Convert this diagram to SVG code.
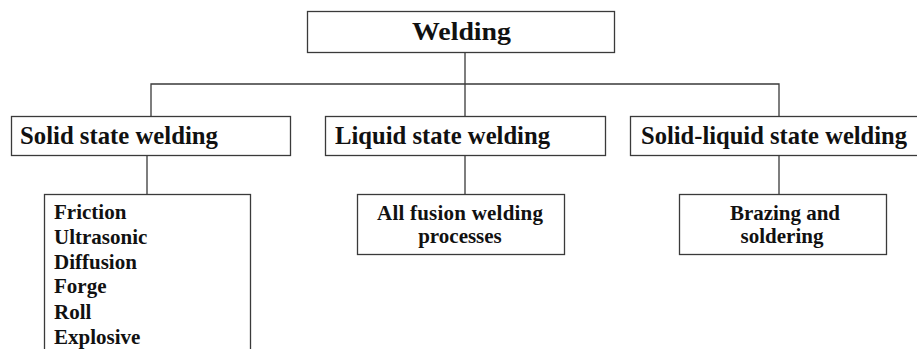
<svg xmlns="http://www.w3.org/2000/svg" width="917" height="349" viewBox="0 0 917 349">
<style>
.box{fill:#fff;stroke:#3a3a3a;stroke-width:1.3}
.ln{fill:none;stroke:#3a3a3a;stroke-width:1.3}
.t{font-family:'Liberation Serif','Times New Roman',Times,serif;font-weight:700;font-size:21px;fill:#111}
.h{font-size:24.5px}
.c{text-anchor:middle}
</style>
<rect width="917" height="349" fill="#fff"/>
<g id="connectors">
<path class="ln" d="M465 52V116M151 116V84H779V116M147 155V194M465 155V194M779 155V194"/>
</g>
<g class="t">
<g id="welding">
<rect class="box" x="307.5" y="11.5" width="307" height="41"/>
<text class="c" x="461.5" y="40" font-size="26" textLength="99" lengthAdjust="spacingAndGlyphs">Welding</text>
</g>
<g id="solid">
<rect class="box" x="11.5" y="116.5" width="279" height="39"/>
<text class="h" x="20" y="143.5" textLength="198" lengthAdjust="spacingAndGlyphs">Solid state welding</text>
</g>
<g id="liquid">
<rect class="box" x="325.5" y="116.5" width="280" height="39"/>
<text class="h" x="335" y="143.5" textLength="215" lengthAdjust="spacingAndGlyphs">Liquid state welding</text>
</g>
<g id="solidliquid">
<rect class="box" x="630.5" y="116.5" width="300" height="39"/>
<text class="h" x="641" y="143.5" textLength="266" lengthAdjust="spacingAndGlyphs">Solid-liquid state welding</text>
</g>
<g id="solidlist">
<rect class="box" x="44.5" y="194.5" width="206" height="170"/>
<text x="54" y="219">Friction</text>
<text x="54" y="244">Ultrasonic</text>
<text x="54" y="269">Diffusion</text>
<text x="54" y="293">Forge</text>
<text x="54" y="319">Roll</text>
<text x="54" y="344">Explosive</text>
</g>
<g id="fusion">
<rect class="box" x="357.5" y="194.5" width="207" height="60"/>
<text class="c" x="460" y="220" textLength="166" lengthAdjust="spacing">All fusion welding</text>
<text class="c" x="460" y="243">processes</text>
</g>
<g id="brazing">
<rect class="box" x="679.5" y="194.5" width="207" height="60"/>
<text class="c" x="785" y="220" textLength="110" lengthAdjust="spacing">Brazing and</text>
<text class="c" x="782" y="243">soldering</text>
</g>
</g>
</svg>
